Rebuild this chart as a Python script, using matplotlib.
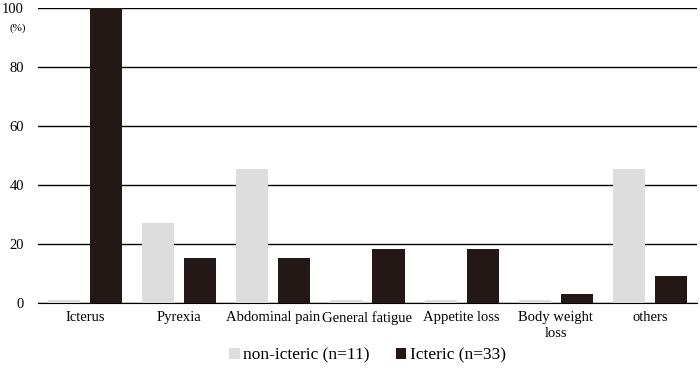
import numpy as np
import matplotlib.pyplot as plt

plt.rcParams['font.family'] = ['Liberation Serif', 'DejaVu Serif']

categories = ['Icterus', 'Pyrexia', 'Abdominal pain', 'General fatigue',
              'Appetite loss', 'Body weight\nloss', 'others']
non_icteric = [1.2, 27.3, 45.5, 1.2, 1.2, 1.2, 45.5]
icteric = [100.0, 15.2, 15.2, 18.2, 18.2, 3.0, 9.1]
yticks = [0, 20, 40, 60, 80, 100]

fig = plt.figure(figsize=(7, 3.77), dpi=100)
ax = fig.add_axes([0.054, 0.196, 0.942, 0.783])

x = np.arange(len(categories))
w = 0.34
ax.bar(x - 0.223, non_icteric, w, color='#dddddd', label='non-icteric (n=11)', zorder=3)
ax.bar(x + 0.223, icteric, w, color='#231815', label='Icteric (n=33)', zorder=3)

ax.set_xlim(-0.5, len(categories) - 0.5)
ax.set_ylim(0, 100)
ax.set_yticks(yticks)
ax.yaxis.grid(True, color='black', linewidth=1.0, zorder=0)
ax.set_axisbelow(True)
for s in ['top', 'right', 'left']:
    ax.spines[s].set_visible(False)
ax.spines['bottom'].set_color('black')
ax.tick_params(axis='y', length=0, labelsize=10.5, pad=10)
ax.tick_params(axis='x', length=0, labelsize=10.5, pad=6)
ax.set_xticks(x)
ax.set_xticklabels(categories, linespacing=1.25)

fig.text(0.025, 0.925, '(%)', fontsize=8, ha='center', va='center')

fig.legend(loc='center', bbox_to_anchor=(0.525, 0.058), ncol=2, frameon=False,
           fontsize=12.5, handlelength=0.6, handleheight=0.6, handletextpad=0.2,
           columnspacing=1.5)

fig.savefig('out.png', dpi=100)
